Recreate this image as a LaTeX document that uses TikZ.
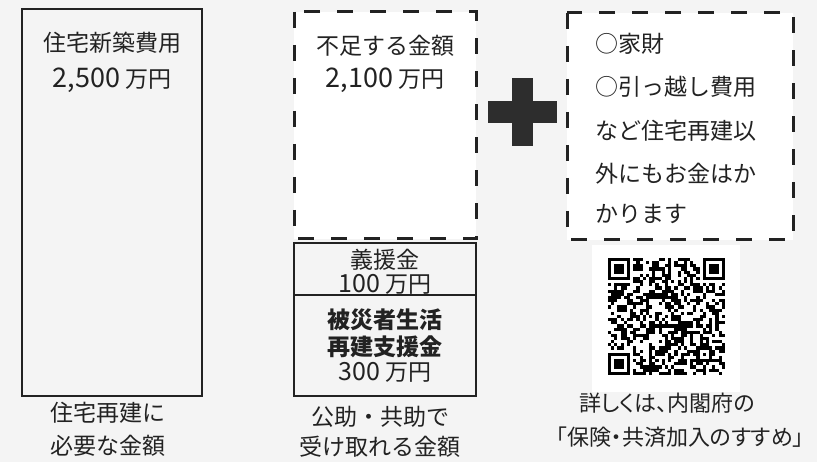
\documentclass[tikz,border=0pt]{standalone}
\usepackage{fontspec}
\setmainfont{Noto Sans CJK JP}
\newfontfamily\paltfont[RawFeature=+palt]{Noto Sans CJK JP}
\definecolor{bgcol}{RGB}{244,244,244}
\definecolor{ink}{RGB}{34,34,34}
\definecolor{plusgray}{RGB}{45,45,45}
\newcommand\bigdg[1]{{\fontsize{27}{26}\selectfont #1}}
\newcommand\smalldg[1]{{\fontsize{25}{26}\selectfont #1}}
\begin{document}
\begin{tikzpicture}[x=1pt,y=-1pt,
  lbl/.style={text=ink,font=\fontsize{23}{26}\selectfont,inner sep=0pt},
  lblbold/.style={lbl,font=\fontsize{23}{26}\selectfont\bfseries},
  lblpalt/.style={lbl,font=\fontsize{22}{26}\selectfont\paltfont},
  solidbox/.style={draw=ink,line width=2pt,fill=bgcol},
  dashbox/.style={draw=ink,line width=3pt,fill=white,dash pattern=on 16pt off 17pt}]
\fill[bgcol] (0,0) rectangle (817,462);
\useasboundingbox (0,0) rectangle (817,462);
% left column
\draw[solidbox] (22,9) rectangle (202,396);
\node[lbl] (newcost) at (112,43) {住宅新築費用};
\node[lbl] (newsum) at (112,80) {\bigdg{2,500} 万円};
\node[lbl] (needa) at (108,413) {住宅再建に};
\node[lbl] (needb) at (108,446) {必要な金額};
% middle column
\draw[dashbox] (294,12) rectangle (476,239);
\node[lbl] (lack) at (385,46) {不足する金額};
\node[lbl] (lacksum) at (385,80) {\bigdg{2,100} 万円};
\draw[solidbox] (294,243) rectangle (476,295);
\node[lbl] (gien) at (385,260) {義援金};
\node[lbl] (giensum) at (385,284) {\smalldg{100} 万円};
\draw[solidbox] (294,295) rectangle (476,396);
\node[lblbold] (shiena) at (385,320) {被災者生活};
\node[lblbold] (shienb) at (385,347) {再建支援金};
\node[lbl] (shiensum) at (385,372) {\smalldg{300} 万円};
\node[lbl] (geta) at (380,417) {公助・共助で};
\node[lbl] (getb) at (380,447) {受け取れる金額};
% plus sign
\fill[plusgray] (512,78) rectangle (533,146);
\fill[plusgray] (488,101) rectangle (557,123);
% right column
\draw[dashbox] (567,13) rectangle (793,240);
\node[lbl,anchor=west] (etca) at (595,44) {○家財};
\node[lbl,anchor=west] (etcb) at (595,87) {○引っ越し費用};
\node[lbl,anchor=west] (etcc) at (595,131) {など住宅再建以};
\node[lbl,anchor=west] (etcd) at (595,174) {外にもお金はか};
\node[lbl,anchor=west] (etce) at (595,214) {かります};
% qr code
\fill[white] (592,245) rectangle (740,392);
\def\qrm{3.16}
\pgfmathsetseed{4242}
\foreach \i in {0,...,36}{
  \foreach \j in {0,...,36}{
    \pgfmathrandominteger{\bit}{0}{1}
    \pgfmathtruncatemacro{\qrskip}{((\i<8)&&(\j<8))||((\i>28)&&(\j<8))||((\i<8)&&(\j>28)) ? 1 : 0}
    \ifnum\bit=1 \ifnum\qrskip=0
      \fill[black] ({608+\i*\qrm},{258+\j*\qrm}) rectangle ++(\qrm,\qrm);
    \fi\fi
  }
}
\foreach \fx/\fy in {0/0,30/0,0/30}{
  \fill[black] ({608+\fx*\qrm},{258+\fy*\qrm}) rectangle ++({7*\qrm},{7*\qrm});
  \fill[white] ({608+(\fx+1)*\qrm},{258+(\fy+1)*\qrm}) rectangle ++({5*\qrm},{5*\qrm});
  \fill[black] ({608+(\fx+2)*\qrm},{258+(\fy+2)*\qrm}) rectangle ++({3*\qrm},{3*\qrm});
}
\fill[black] ({608+28*\qrm},{258+28*\qrm}) rectangle ++({5*\qrm},{5*\qrm});
\fill[white] ({608+29*\qrm},{258+29*\qrm}) rectangle ++({3*\qrm},{3*\qrm});
\fill[black] ({608+30*\qrm},{258+30*\qrm}) rectangle ++(\qrm,\qrm);
\node[lblpalt] (morea) at (667,403) {詳しくは、内閣府の};
\node[lblpalt] (moreb) at (680,437) {「保険・共済加入のすすめ」};
\end{tikzpicture}
\end{document}
